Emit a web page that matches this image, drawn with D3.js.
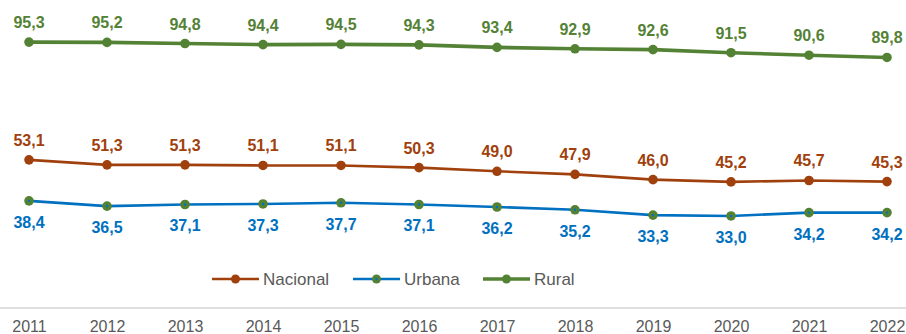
<!DOCTYPE html>
<html>
<head>
<meta charset="utf-8">
<script src="https://cdn.jsdelivr.net/npm/d3@7"></script>
<style>
  html, body { margin: 0; padding: 0; background: #fff; }
  svg { display: block; }
</style>
</head>
<body>
<svg id="chart" width="906" height="334"></svg>
<script>
const years = [2011, 2012, 2013, 2014, 2015, 2016, 2017, 2018, 2019, 2020, 2021, 2022];
const nacional = [53.1, 51.3, 51.3, 51.1, 51.1, 50.3, 49.0, 47.9, 46.0, 45.2, 45.7, 45.3];
const urbana = [38.4, 36.5, 37.1, 37.3, 37.7, 37.1, 36.2, 35.2, 33.3, 33.0, 34.2, 34.2];
const rural = [95.3, 95.2, 94.8, 94.4, 94.5, 94.3, 93.4, 92.9, 92.6, 91.5, 90.6, 89.8];
const seriesNames = ["Nacional", "Urbana", "Rural"];

const series = [
  { name: seriesNames[0], values: nacional, line: "#A0410D", marker: "#A0410D", center: null, label: "#A0410D", width: 2.6, pos: "above" },
  { name: seriesNames[1], values: urbana, line: "#0070C0", marker: "#548235", center: "#0070C0", label: "#0070C0", width: 2.6, pos: "below" },
  { name: seriesNames[2], values: rural, line: "#548235", marker: "#548235", center: null, label: "#548235", width: 3.6, pos: "above" }
];

const svg = d3.select("#chart");
const fmt = v => d3.format(".1f")(v).replace(".", ",");

const x = d3.scalePoint().domain(years).range([29, 887]);
const y = d3.scaleLinear().domain([0, 100]).range([308, 29]);

// baseline axis with year labels
const axis = d3.axisBottom(x).tickSize(0).tickPadding(0).tickFormat(d => d);
const gAxis = svg.append("g").attr("transform", "translate(0,308)").call(axis);
gAxis.select(".domain").remove();
svg.append("line").attr("x1", 0).attr("x2", 906).attr("y1", 308).attr("y2", 308)
  .attr("stroke", "#BFBFBF").attr("stroke-width", 1.2);
gAxis.selectAll("text")
  .attr("dy", 0).attr("y", 24)
  .attr("font-family", "'Liberation Sans Narrow', 'Arial Narrow', 'Liberation Sans', Arial, sans-serif")
  .attr("font-size", 16).attr("fill", "#595959");

const lineGen = d3.line().x((d, i) => x(years[i])).y(d => y(d));

series.forEach(s => {
  const g = svg.append("g");
  g.append("path").datum(s.values)
    .attr("d", lineGen).attr("fill", "none")
    .attr("stroke", s.line).attr("stroke-width", s.width)
    .attr("stroke-linejoin", "round");
  g.selectAll("circle.m").data(s.values).join("circle")
    .attr("class", "m")
    .attr("cx", (d, i) => x(years[i])).attr("cy", d => y(d))
    .attr("r", 4.8).attr("fill", s.marker);
  if (s.center) {
    g.selectAll("circle.c").data(s.values).join("circle")
      .attr("class", "c")
      .attr("cx", (d, i) => x(years[i])).attr("cy", d => y(d))
      .attr("r", 1.2).attr("fill", s.center);
  }
  g.selectAll("text").data(s.values).join("text")
    .attr("x", (d, i) => x(years[i]))
    .attr("y", d => s.pos === "above" ? y(d) - 14 : y(d) + 27)
    .attr("text-anchor", "middle")
    .attr("font-family", "'Liberation Sans', Arial, sans-serif")
    .attr("font-weight", "bold").attr("font-size", 16)
    .attr("fill", s.label)
    .text(fmt);
});

// legend
const legendItems = [
  { s: series[0], x0: 212 },
  { s: series[1], x0: 353 },
  { s: series[2], x0: 483 }
];
const ly = 279;
legendItems.forEach(({ s, x0 }) => {
  const g = svg.append("g");
  g.append("line").attr("x1", x0).attr("x2", x0 + 47).attr("y1", ly).attr("y2", ly)
    .attr("stroke", s.line).attr("stroke-width", s.width);
  g.append("circle").attr("cx", x0 + 23.5).attr("cy", ly).attr("r", 4.5).attr("fill", s.marker);
  if (s.center) g.append("circle").attr("cx", x0 + 23.5).attr("cy", ly).attr("r", 1.2).attr("fill", s.center);
  g.append("text").attr("x", x0 + 51).attr("y", ly + 6)
    .attr("font-family", "'Liberation Sans', Arial, sans-serif")
    .attr("font-size", 17).attr("fill", "#595959")
    .text(s.name);
});
</script>
</body>
</html>
